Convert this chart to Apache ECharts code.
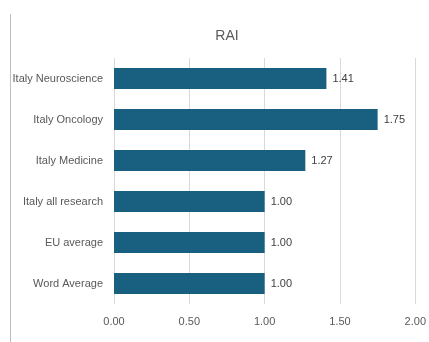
<!DOCTYPE html>
<html><head><meta charset="utf-8">
<script src="https://cdn.jsdelivr.net/npm/echarts@6/dist/echarts.min.js"></script>
<style>html,body{margin:0;padding:0;background:#fff}#c{width:429px;height:342px}</style>
</head><body><div id="c"></div>
<script>
var categories = ["Italy Neuroscience","Italy Oncology","Italy Medicine","Italy all research","EU average","Word Average"];
var values = [1.41, 1.75, 1.27, 1.00, 1.00, 1.00];
var xTicks = [0, 0.5, 1, 1.5, 2];
var titleText = "RAI";

var chart = echarts.init(document.getElementById('c'), null, {renderer:'canvas'});
chart.setOption({
  animation:false,
  title:{text:titleText,left:222,top:24,textAlign:'center',textStyle:{fontFamily:'Liberation Sans',fontSize:14,fontWeight:'normal',color:'#595959'}},
  graphic:[{type:'line',shape:{x1:10.5,y1:14,x2:10.5,y2:342},style:{stroke:'#bfbfbf',lineWidth:1}}],
  grid:{left:114,right:11,top:58,bottom:38},
  xAxis:{type:'value',min:xTicks[0],max:xTicks[xTicks.length-1],interval:0.5,
    axisLine:{show:false},axisTick:{show:false},
    splitLine:{lineStyle:{color:'#d9d9d9'}},
    axisLabel:{formatter:function(v){return v.toFixed(2);},margin:12,fontFamily:'Liberation Sans',fontSize:11,color:'#595959'}},
  yAxis:{type:'category',data:categories,inverse:true,
    axisLine:{show:false},axisTick:{show:false},
    axisLabel:{margin:11,fontFamily:'Liberation Sans',fontSize:11,color:'#595959'}},
  series:[{type:'bar',data:values,barCategoryGap:'49%',
    itemStyle:{color:'#185f80'},
    label:{show:true,position:'right',distance:6,formatter:function(p){return p.value.toFixed(2);},fontFamily:'Liberation Sans',fontSize:11,color:'#404040'}}]
});
</script></body></html>
